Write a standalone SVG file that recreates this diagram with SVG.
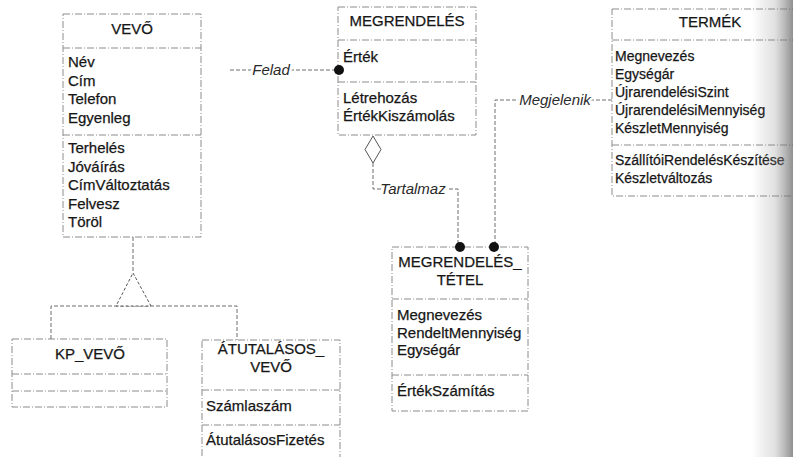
<svg xmlns="http://www.w3.org/2000/svg" width="793" height="457" viewBox="0 0 793 457">
  <style>
    .box { fill: #ffffff; stroke: #8c8c8c; stroke-width: 1; stroke-dasharray: 7 2 1 2; }
    .sep { fill: none; stroke: #8c8c8c; stroke-width: 1; stroke-dasharray: 7 2 1 2; }
    .conn { fill: none; stroke: #6e6e6e; stroke-width: 1; stroke-dasharray: 4 2; }
    .t { font-family: "Liberation Sans", Arial, sans-serif; font-size: 15px; fill: #161616; stroke: #161616; stroke-width: 0.25; }
    .tt { font-family: "Liberation Sans", Arial, sans-serif; font-size: 15px; fill: #161616; stroke: #161616; stroke-width: 0.25; text-anchor: middle; }
    .sm { font-size: 14px; }
    .lbl { font-family: "Liberation Sans", Arial, sans-serif; font-size: 15px; font-style: italic; fill: #2a2a2a; stroke: #ffffff; stroke-width: 5; paint-order: stroke; stroke-linejoin: round; text-anchor: middle; }
    .dot { fill: #111111; }
    .hollow { fill: #ffffff; stroke: #555555; stroke-width: 1; }
  </style>
  <defs>
    <linearGradient id="edgeShade" x1="0" y1="0" x2="1" y2="0">
      <stop offset="0" stop-color="#7a7a7a" stop-opacity="0"/>
      <stop offset="0.55" stop-color="#8a8a8a" stop-opacity="0.25"/>
      <stop offset="1" stop-color="#6a6a6a" stop-opacity="0.75"/>
    </linearGradient>
  </defs>

  <rect x="0" y="0" width="793" height="457" fill="#ffffff"/>

  <!-- VEVŐ -->
  <g id="vevo">
    <rect class="box" x="63" y="14" width="138" height="223"/>
    <path class="sep" d="M63,48 H201 M63,135 H201"/>
    <text class="tt" x="132" y="34">VEVŐ</text>
    <text class="t" x="68" y="67">Név</text>
    <text class="t" x="68" y="85.5">Cím</text>
    <text class="t" x="68" y="104">Telefon</text>
    <text class="t" x="68" y="122.5">Egyenleg</text>
    <text class="t" x="68" y="153">Terhelés</text>
    <text class="t" x="68" y="171.5">Jóváírás</text>
    <text class="t" x="68" y="190">CímVáltoztatás</text>
    <text class="t" x="68" y="208.5">Felvesz</text>
    <text class="t" x="68" y="226.5">Töröl</text>
  </g>

  <!-- MEGRENDELÉS -->
  <g id="megrendeles">
    <rect class="box" x="338" y="7" width="138" height="128"/>
    <path class="sep" d="M338,40 H476 M338,82 H476"/>
    <text class="tt" x="407" y="26">MEGRENDELÉS</text>
    <text class="t" x="343" y="62">Érték</text>
    <text class="t" x="343" y="103">Létrehozás</text>
    <text class="t" x="343" y="121">ÉrtékKiszámolás</text>
  </g>

  <!-- TERMÉK -->
  <g id="termek">
    <rect class="box" x="612" y="9" width="200" height="187"/>
    <path class="sep" d="M612,40 H812 M612,145 H812"/>
    <text class="tt" x="710" y="27">TERMÉK</text>
    <text class="t sm" x="615" y="61">Megnevezés</text>
    <text class="t sm" x="615" y="79">Egységár</text>
    <text class="t sm" x="615" y="97">ÚjrarendelésiSzint</text>
    <text class="t sm" x="615" y="115">ÚjrarendelésiMennyiség</text>
    <text class="t sm" x="615" y="133">KészletMennyiség</text>
    <text class="t sm" x="615" y="165">SzállítóiRendelésKészítése</text>
    <text class="t sm" x="615" y="182.5">Készletváltozás</text>
  </g>

  <!-- MEGRENDELÉS_TÉTEL -->
  <g id="megrendeles-tetel">
    <rect class="box" x="392" y="247" width="136" height="164"/>
    <path class="sep" d="M392,299 H528 M392,375 H528"/>
    <text class="tt" x="460" y="267">MEGRENDELÉS_</text>
    <text class="tt" x="460" y="285">TÉTEL</text>
    <text class="t" x="397" y="320">Megnevezés</text>
    <text class="t" x="397" y="338">RendeltMennyiség</text>
    <text class="t" x="397" y="355">Egységár</text>
    <text class="t" x="397" y="396">ÉrtékSzámítás</text>
  </g>

  <!-- KP_VEVŐ -->
  <g id="kp-vevo">
    <rect class="box" x="12" y="339" width="155" height="68"/>
    <path class="sep" d="M12,374 H167 M12,391 H167"/>
    <text class="tt" x="90" y="359">KP_VEVŐ</text>
  </g>

  <!-- ÁTUTALÁSOS_VEVŐ -->
  <g id="atutalasos-vevo">
    <rect class="box" x="202" y="340" width="138" height="130"/>
    <path class="sep" d="M202,390 H340 M202,425 H340"/>
    <text class="tt" x="271" y="354">ÁTUTALÁSOS_</text>
    <text class="tt" x="271" y="372">VEVŐ</text>
    <text class="t" x="206" y="411">Számlaszám</text>
    <text class="t" x="206" y="445">ÁtutalásosFizetés</text>
  </g>

  <!-- connectors, drawn over the class boxes so the end markers sit on the borders -->
  <g id="connectors">
    <!-- VEVŐ - MEGRENDELÉS : Felad -->
    <path class="conn" d="M230,70 H336"/>
    <!-- MEGRENDELÉS <>- MEGRENDELÉS_TÉTEL : Tartalmaz -->
    <path class="conn" d="M373,163 V189 H458 V243"/>
    <!-- TERMÉK - MEGRENDELÉS_TÉTEL : Megjelenik -->
    <path class="conn" d="M612,100 H495 V243"/>
    <!-- generalization: VEVŐ <|- KP_VEVŐ, ÁTUTALÁSOS_VEVŐ -->
    <path class="conn" d="M133,237 V273"/>
    <path class="conn" d="M51,339 V306 H237 V340"/>
    <polygon class="hollow" points="133,273 151,306 116,306" stroke-dasharray="3 2"/>
    <!-- aggregation diamond -->
    <polygon class="hollow" points="373,136 381,149.5 373,163 365,149.5"/>
    <!-- association ends -->
    <circle class="dot" cx="339" cy="70" r="5"/>
    <circle class="dot" cx="460" cy="247" r="5"/>
    <circle class="dot" cx="494" cy="247" r="5"/>
    <!-- labels -->
    <text class="lbl" x="271" y="75">Felad</text>
    <text class="lbl" x="413" y="194">Tartalmaz</text>
    <text class="lbl" x="555" y="105">Megjelenik</text>
  </g>

  <!-- darkened page edge on the right -->
  <rect x="752" y="0" width="41" height="457" fill="url(#edgeShade)"/>
</svg>
